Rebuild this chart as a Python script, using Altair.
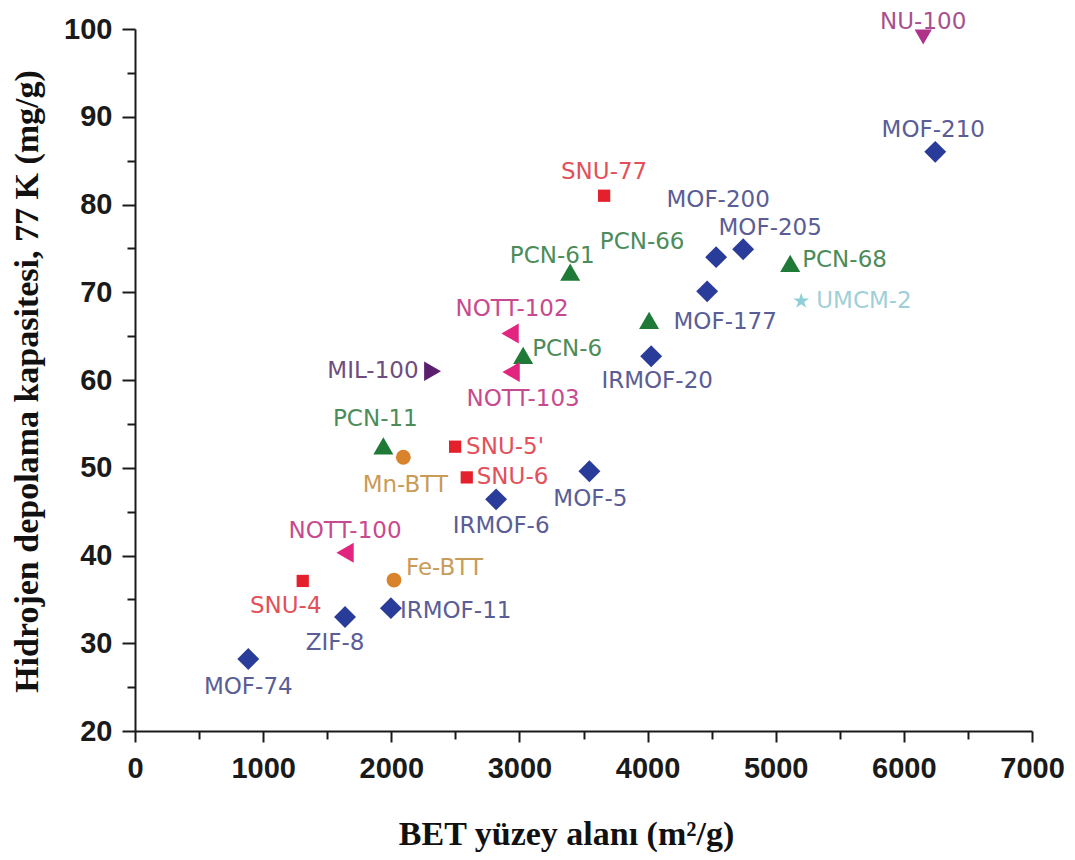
import altair as alt
import pandas as pd

# ---- data ----
names = ["MOF-74", "ZIF-8", "IRMOF-11", "SNU-4", "Fe-BTT", "NOTT-100", "IRMOF-6",
         "SNU-6", "MOF-5", "Mn-BTT", "SNU-5'", "PCN-11", "MIL-100", "NOTT-103",
         "PCN-6", "NOTT-102", "IRMOF-20", "PCN-66", "MOF-177", "UMCM-2", "PCN-61",
         "MOF-200", "MOF-205", "PCN-68", "SNU-77", "MOF-210", "NU-100"]
bet = [884, 1639, 1997, 1309, 2021, 1639, 2818,
       2589, 3546, 2094, 2498, 1938, 2322, 2935,
       3029, 2927, 4028, 4012, 4465, 5199, 3396,
       4535, 4746, 5113, 3661, 6245, 6151]
h2 = [28.2, 33.0, 34.0, 37.1, 37.2, 40.3, 46.4,
      48.9, 49.6, 51.2, 52.4, 52.5, 61.0, 60.9,
      62.8, 65.3, 62.7, 66.8, 70.1, 69.0, 72.3,
      74.0, 74.9, 73.3, 81.0, 86.0, 99.1]
family = ["MOF", "MOF", "MOF", "SNU", "BTT", "NOTT", "MOF",
          "SNU", "MOF", "BTT", "SNU", "PCN", "MIL", "NOTT",
          "PCN", "NOTT", "MOF", "PCN", "MOF", "UMCM", "PCN",
          "MOF", "MOF", "PCN", "SNU", "MOF", "NU"]

x_ticks = list(range(0, 7001, 500))
y_ticks = list(range(20, 101, 5))

# ---- styles ----
STAR = ("M0,-1L0.2245,-0.309L0.9511,-0.309L0.3633,0.118L0.5878,0.809L0,0.382"
        "L-0.5878,0.809L-0.3633,0.118L-0.9511,-0.309L-0.2245,-0.309Z")
family_style = {
    # shape, marker colour, marker size, label colour
    "MOF": ("diamond", "#2a3c9a", 480, "#5a5d96"),
    "SNU": ("square", "#e3202b", 150, "#e2505a"),
    "PCN": ("triangle-up", "#1e7a36", 400, "#4c8c5a"),
    "NOTT": ("triangle-left", "#e2257f", 400, "#c84a8e"),
    "MIL": ("triangle-right", "#5b1f6f", 380, "#6f4d7e"),
    "NU": ("triangle-down", "#b0338a", 300, "#a8508f"),
    "BTT": ("circle", "#d9832c", 220, "#c99b58"),
    "UMCM": (STAR, "#8fd0d8", 280, "#9fd0d8"),
}

# label placement (dx, dy, align) relative to the marker
label_place = {
    "MOF-74": (0, 28, "center"), "ZIF-8": (-10, 26, "center"),
    "IRMOF-11": (9, 3, "left"), "SNU-4": (-17, 25, "center"),
    "Fe-BTT": (12, -12, "left"), "NOTT-100": (0, -22, "center"),
    "IRMOF-6": (5, 27, "center"), "SNU-6": (10, 0, "left"),
    "MOF-5": (1, 28, "center"), "Mn-BTT": (2, 28, "center"),
    "SNU-5'": (11, 0, "left"), "PCN-11": (-8, -27, "center"),
    "MIL-100": (-14, 0, "right"), "NOTT-103": (12, 27, "center"),
    "PCN-6": (9, -6, "left"), "NOTT-102": (2, -24, "center"),
    "IRMOF-20": (6, 25, "center"), "PCN-66": (-7, -78, "center"),
    "MOF-177": (18, 31, "center"), "UMCM-2": (15, 0, "left"),
    "PCN-61": (-18, -16, "center"), "MOF-200": (2, -57, "center"),
    "MOF-205": (27, -21, "center"), "PCN-68": (12, -3, "left"),
    "SNU-77": (0, -24, "center"), "MOF-210": (-2, -22, "center"),
    "NU-100": (0, -15, "center"),
}

df = pd.DataFrame({"name": names, "bet": bet, "h2": h2, "family": family})

axis_common = dict(
    grid=False, domainColor="#1a1a1a", domainWidth=2, tickColor="#1a1a1a", tickWidth=2,
    labelFont="Liberation Sans", labelFontWeight="bold", labelFontSize=29,
    labelColor="#1a1a1a", titleFont="Liberation Serif", titleFontWeight="bold",
    titleFontSize=34, titleColor="#111111", labelFlush=False, labelOverlap=False,
)

x_enc = alt.X(
    "bet:Q",
    scale=alt.Scale(domain=[0, 7000], nice=False, zero=False),
    axis=alt.Axis(
        values=x_ticks, format="d", orient="bottom",
        labelExpr="datum.value % 1000 === 0 ? datum.label : ''",
        tickSize={"condition": {"test": "datum.value % 1000 === 0", "value": 11}, "value": 8},
        labelPadding=12,
        title="BET yüzey alanı (m²/g)",
        titleX=431, titleY=103, titleBaseline="middle", titleAlign="center",
        **axis_common,
    ),
)
y_enc = alt.Y(
    "h2:Q",
    scale=alt.Scale(domain=[20, 100], nice=False, zero=False),
    axis=alt.Axis(
        values=y_ticks, format="d",
        labelExpr="datum.value % 10 === 0 ? datum.label : ''",
        tickSize={"condition": {"test": "datum.value % 10 === 0", "value": 13}, "value": 8},
        labelPadding=10,
        title="Hidrojen depolama kapasitesi, 77 K (mg/g)",
        titleX=-108, titleY=352, titleAngle=270, titleBaseline="middle", titleAlign="center",
        **axis_common,
    ),
)

base = alt.Chart(df).encode(x=x_enc, y=y_enc)

layers = []
for n, fam in zip(names, family):
    dx, dy, al = label_place[n]
    layers.append(
        base.transform_filter(alt.FieldEqualPredicate(field="name", equal=n))
        .mark_text(dx=dx, dy=dy, align=al, baseline="middle", font="DejaVu Sans",
                   fontSize=23, color=family_style[fam][3])
        .encode(text="name:N")
    )

for fam, (shape, col, size, _) in family_style.items():
    layers.append(
        base.transform_filter(alt.FieldEqualPredicate(field="family", equal=fam))
        .mark_point(filled=True, opacity=1, strokeWidth=0, shape=shape, size=size, color=col)
    )

chart = alt.layer(*layers).properties(
    width=897, height=702,
    autosize=alt.AutoSizeParams(type="none"),
    padding={"left": 127, "top": 21, "right": 34, "bottom": 124},
    background="white",
).configure_view(stroke=None)

chart.save("out.html", embed_options={"renderer": "svg", "actions": False})
